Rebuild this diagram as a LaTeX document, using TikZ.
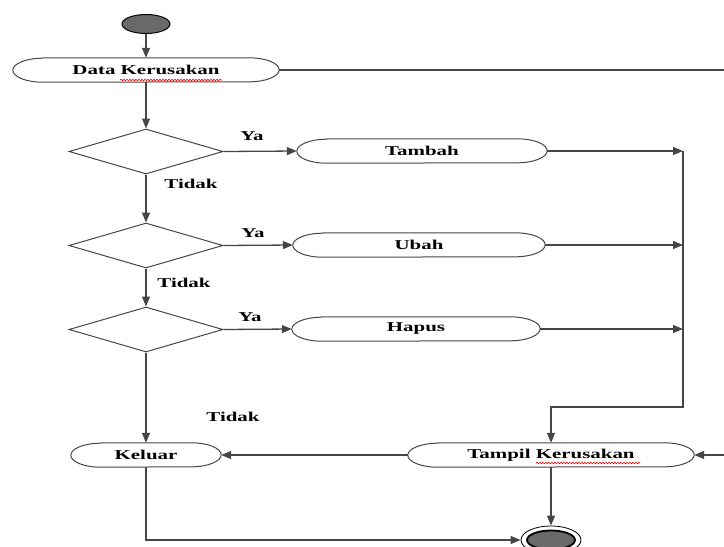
\documentclass[tikz,border=0pt]{standalone}
\usepackage{fontspec}
\setmainfont{Liberation Serif}
\usetikzlibrary{shapes.geometric,arrows.meta,decorations.pathmorphing}
\definecolor{nodegray}{RGB}{105,105,105}
\definecolor{linegray}{RGB}{70,70,70}
\newcommand{\wtxt}[1]{\scalebox{1.55}[1]{#1}}
\begin{document}
\begin{tikzpicture}[x=1pt,y=-1pt,
  line/.style={draw=linegray, line width=1.3pt},
  arr/.style={line, -{Triangle[length=10pt,width=8pt]}},
  act/.style={rectangle, inner sep=0pt, minimum height=24pt, font=\fontsize{13.5}{16}\selectfont\bfseries},
  dec/.style={diamond, draw=linegray, line width=1pt, inner sep=0pt, minimum width=154pt, minimum height=45pt},
  lbl/.style={font=\fontsize{13.5}{16}\selectfont\bfseries, inner sep=0pt},
  squig/.style={draw=red, line width=0.6pt, decorate, decoration={snake, amplitude=0.8pt, segment length=3pt}}
]
\useasboundingbox (0,0) rectangle (724,547);

% start / end
\node[ellipse, draw=black, line width=1pt, fill=nodegray, minimum width=48pt, minimum height=19pt, inner sep=0pt] (start) at (146,24) {};
\node[ellipse, draw=black, line width=0.8pt, minimum width=60pt, minimum height=28pt, inner sep=0pt] (end) at (551,540) {};
\node[ellipse, draw=black, line width=1.8pt, fill=nodegray, minimum width=48pt, minimum height=19pt, inner sep=0pt] (endin) at (end) {};

% activities
\node[act, minimum width=266pt] (data) at (146,70) {\wtxt{Data Kerusakan}};
\node[act, minimum width=250pt] (tambah) at (422,151) {\wtxt{Tambah}};
\node[act, minimum width=252pt] (ubah) at (419,245) {\wtxt{Ubah}};
\node[act, minimum width=248pt] (hapus) at (416,329) {\wtxt{Hapus}};
\node[act, minimum width=286pt] (tampil) at (551,455) {\wtxt{Tampil Kerusakan}};
\node[act, minimum width=150pt] (keluar) at (146,455) {\wtxt{Keluar}};

\foreach \n in {data,tambah,ubah,hapus,tampil,keluar}{
  \draw[line, line width=1pt] ([xshift=30pt]\n.north west) -- ([xshift=-30pt]\n.north east)
    arc[start angle=90, end angle=-90, x radius=30pt, y radius=12pt]
    -- ([xshift=30pt]\n.south west)
    arc[start angle=270, end angle=90, x radius=30pt, y radius=12pt] -- cycle;
}

% spell-check underlines
\draw[squig] (120,80) -- (222,80);
\draw[squig] (536,463) -- (640,463);

% decisions
\node[dec] (d1) at (146,151.5) {};
\node[dec] (d2) at (146,245.5) {};
\node[dec] (d3) at (146,329.5) {};

% labels
\node[lbl] (ya1) at (252,136) {\wtxt{Ya}};
\node[lbl] (ya2) at (253,233) {\wtxt{Ya}};
\node[lbl] (ya3) at (250,317) {\wtxt{Ya}};
\node[lbl] (t1) at (191,184) {\wtxt{Tidak}};
\node[lbl] (t2) at (184,283) {\wtxt{Tidak}};
\node[lbl] (t3) at (233,417) {\wtxt{Tidak}};

% free ends / junctions
\coordinate (rtop) at (724,70);
\coordinate (rin) at (724,455);
\coordinate (jt) at (683,151);
\coordinate (jb) at (683,407);

% connectors
\draw[arr] (start) -- (data);
\draw[line] (data.east) -- (rtop);
\draw[arr] (data) -- (d1);
\draw[arr] (d1) -- (d2);
\draw[arr] (d2) -- (d3);
\draw[arr] (d3) -- (keluar);
\draw[arr] (d1.east) -- (tambah.west);
\draw[arr] (d2.east) -- (ubah.west);
\draw[arr] (d3.east) -- (hapus.west);
\draw[arr] (tambah.east) -- (jt);
\draw[arr] (ubah.east) -- (ubah.east -| jt);
\draw[arr] (hapus.east) -- (hapus.east -| jt);
\draw[arr] (jt) -- (jb) -| (tampil.north);
\draw[arr] (rin) -- (tampil.east);
\draw[arr] (tampil.west) -- (keluar.east);
\draw[arr] (tampil.south) -- (end.north);
\draw[arr] (keluar.south) |- (end.west);
\end{tikzpicture}
\end{document}
